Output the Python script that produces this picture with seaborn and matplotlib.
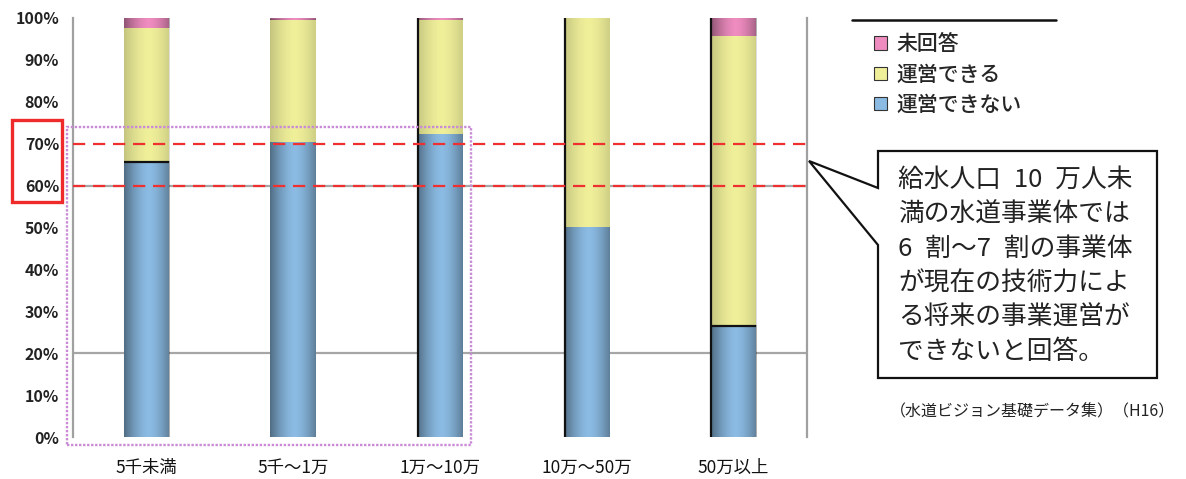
import numpy as np
import pandas as pd
import matplotlib
matplotlib.use("Agg")
import matplotlib.pyplot as plt
import seaborn as sns
from matplotlib.patches import Rectangle, Patch, Polygon
from matplotlib.lines import Line2D

# --- data (percent of utilities, by population served) ---
categories = ["5千未満", "5千～1万", "1万～10万", "10万～50万", "50万以上"]
cannot_operate = [65.7, 70.3, 72.3, 50.0, 26.5]   # 運営できない
can_operate = [31.8, 29.2, 27.2, 50.0, 69.2]      # 運営できる
no_answer = [2.5, 0.5, 0.5, 0.0, 4.3]             # 未回答
series_names = ["運営できない", "運営できる", "未回答"]
y_ticks = list(range(0, 101, 10))
y_tick_labels = [f"{v}%" for v in y_ticks]
highlight_band = [60, 70]
grid_levels = [20, 60]

callout_lines = [
    "給水人口\u200210\u2002万人未",
    "満の水道事業体では",
    "6\u2002割～7\u2002割の事業体",
    "が現在の技術力によ",
    "る将来の事業運営が",
    "できないと回答。",
]
source_note = "（水道ビジョン基礎データ集）（H16）"

colors = {"運営できない": "#8bbbe3", "運営できる": "#efef9a", "未回答": "#ee8cbf"}
edge_dark = {"運営できない": 0.42, "運営できる": 0.18, "未回答": 0.40}

sns.set_style("white")
plt.rcParams["font.family"] = ["Noto Sans CJK JP", "DejaVu Sans"]

W, H = 1186, 479
fig = plt.figure(figsize=(W / 100, H / 100), dpi=100)
fig.patch.set_facecolor("white")


def fx(px):
    return px / W


def fy(py):
    return 1 - py / H


ax = fig.add_axes([fx(73), fy(437), fx(807) - fx(73), fy(18) - fy(437)])

df = pd.DataFrame({
    "category": categories,
    "運営できない": cannot_operate,
    "運営できる": can_operate,
    "未回答": no_answer,
})
cum = df[series_names].cumsum(axis=1)

# stacked bars: draw cumulative totals from the top layer down
bar_width = 0.31
segments = []
layers = list(reversed(series_names))
for depth, name in enumerate(layers):
    k = series_names.index(name)
    n_before = len(ax.patches)
    sns.barplot(x=df["category"], y=cum[name], color=colors[name], width=bar_width,
                saturation=1, ax=ax, zorder=2 + depth, linewidth=0)
    new_patches = ax.patches[n_before:]
    lower = cum[series_names[k - 1]] if k > 0 else pd.Series([0.0] * len(df))
    for i, p in enumerate(new_patches):
        segments.append((p.get_x(), p.get_width(), lower.iloc[i], cum[name].iloc[i], name))

# cylinder-style shading across each bar segment
t = np.linspace(0, 1, 64)
shape = np.abs(2 * t - 1.08) ** 1.6
for x0, w, y0, y1, name in segments:
    if y1 - y0 <= 0:
        continue
    img = np.zeros((2, t.size, 4))
    img[..., 3] = np.clip(shape * edge_dark[name] / shape.max(), 0, 1)
    ax.imshow(img, extent=[x0, x0 + w, y0, y1], aspect="auto", zorder=6,
              interpolation="bilinear", origin="lower")

# thin dark outlines seen on some segments
bar_x = [p.get_x() for p in ax.patches[-len(df):]]
for i in (0, 4):
    ax.hlines(cannot_operate[i], bar_x[i], bar_x[i] + bar_width, color="#111111", lw=1.6, zorder=7)
for i in (2, 3, 4):
    ax.vlines(bar_x[i] + 0.004, 0, cum["未回答"].iloc[i], color="#111111", lw=1.6, zorder=7)

for g in grid_levels:
    ax.axhline(g, color="#a6a6a6", lw=1.6, zorder=1)
for b in highlight_band:
    ax.axhline(b, color="#ee3030", lw=1.6, ls=(0, (5.5, 3.5)), zorder=8)

ax.set_xlim(-0.5, len(categories) - 0.5)
ax.set_ylim(0, 100)
ax.set_yticks(y_ticks)
ax.set_yticklabels(y_tick_labels, fontsize=11.5, fontweight="bold", color="#222222")
ax.set_xticks(range(len(categories)))
ax.set_xticklabels(categories, fontsize=12.5, color="#111111")
ax.tick_params(axis="both", length=0, pad=10)
ax.tick_params(axis="x", pad=16)
ax.set_xlabel("")
ax.set_ylabel("")
for side in ("top", "bottom"):
    ax.spines[side].set_visible(False)
for side in ("left", "right"):
    ax.spines[side].set_color("#a0a0a0")
    ax.spines[side].set_linewidth(1.6)
ax.set_facecolor("white")

# legend with rule above it
fig.add_artist(Line2D([fx(852), fx(1056)], [fy(20), fy(20)], color="#111111", lw=1.8))
handles = [Patch(facecolor=colors[n], edgecolor="#333333", linewidth=0.8) for n in layers]
fig.legend(handles, layers, loc="upper left", bbox_to_anchor=(fx(866), fy(25)),
           frameon=False, fontsize=15, handlelength=0.6, handleheight=0.6,
           handletextpad=0.45, labelspacing=0.4, borderaxespad=0,
           prop={"size": 15, "weight": "medium"})

# red frame around the 60–70% tick labels
fig.add_artist(Rectangle((fx(12), fy(202)), fx(62) - fx(12), fy(120) - fy(202),
                         fill=False, edgecolor="#ee2a2a", lw=2.4))
# dotted purple frame around the three smaller groups
fig.add_artist(Rectangle((fx(67), fy(445)), fx(471) - fx(67), fy(127) - fy(445),
                         fill=False, edgecolor="#c98ad6", lw=1.7, ls=(0, (1.0, 0.7)), zorder=9))

# callout box with pointer
callout = [(878, 151), (1157, 151), (1157, 378), (878, 378), (878, 245),
           (809, 161), (878, 188)]
fig.add_artist(Polygon([(fx(x), fy(y)) for x, y in callout], closed=True,
                       facecolor="white", edgecolor="#111111", lw=1.6, zorder=10))
for j, line in enumerate(callout_lines):
    fig.text(fx(898), fy(180 + j * 34.4), line, fontsize=18.5, va="center", ha="left",
             color="#222222", zorder=11)

fig.text(fx(1033), fy(412), source_note, fontsize=11.5, ha="center", va="center",
         color="#222222")

fig.savefig("out.png", dpi=100, facecolor="white")
